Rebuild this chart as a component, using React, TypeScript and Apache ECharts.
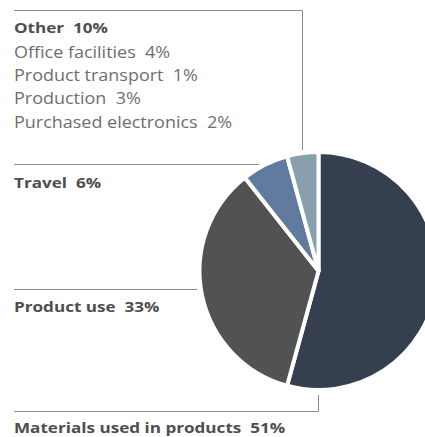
import React, { useEffect, useRef } from "react";
import * as echarts from "echarts";

const sliceNames = ["Materials used in products", "Product use", "Travel", "Other"];
const sliceValues = [51, 33, 6, 4];
const sliceLabels = ["51%", "33%", "6%", "10%"];
const otherNames = ["Office facilities", "Product transport", "Production", "Purchased electronics"];
const otherLabels = ["4%", "1%", "3%", "2%"];
const colors = ["#363f50", "#525252", "#617aa0", "#88a0ab"];

const FONT = "Open Sans";
const BOLD_COLOR = "#4e4e4e";
const LIGHT_COLOR = "#6e6e6e";
const LINE_COLOR = "#8a8a8a";
const BOLD_SCALE = 1.14;
const LIGHT_SCALE = 1.16;

export default function App() {
  const ref = useRef<HTMLDivElement>(null);
  useEffect(() => {
    if (!ref.current) return;
    const chart = echarts.init(ref.current, undefined, { renderer: "svg" });

    const boldText = (x: number, y: number, text: string) => ({
      type: "text",
      x,
      y,
      scaleX: BOLD_SCALE,
      style: {
        text,
        fontFamily: FONT,
        fontSize: 15,
        fontWeight: "bold",
        fill: BOLD_COLOR,
        textVerticalAlign: "middle",
        lineHeight: 14,
      },
    });
    const lightText = (x: number, y: number, text: string) => ({
      type: "text",
      x,
      y,
      scaleX: LIGHT_SCALE,
      style: {
        text,
        fontFamily: FONT,
        fontSize: 15.5,
        fontWeight: "normal",
        fill: LIGHT_COLOR,
        textVerticalAlign: "middle",
        lineHeight: 14,
      },
    });
    const line = (x1: number, y1: number, x2: number, y2: number) => ({
      type: "line",
      shape: { x1, y1, x2, y2 },
      style: { stroke: LINE_COLOR, lineWidth: 1 },
    });

    const graphics: any[] = [
      line(14, 10.5, 302.5, 10.5),
      line(302.5, 10.5, 302.5, 150),
      boldText(14, 27, `${sliceNames[3]}  ${sliceLabels[3]}`),
      ...otherNames.map((n, i) => lightText(14, 51.7 + i * 23.3, `${n}  ${otherLabels[i]}`)),
      line(14, 164.5, 259, 164.5),
      boldText(14, 182, `${sliceNames[2]}  ${sliceLabels[2]}`),
      line(14, 289.5, 197, 289.5),
      boldText(14, 306.5, `${sliceNames[1]}  ${sliceLabels[1]}`),
      line(14, 411.5, 318.5, 411.5),
      line(318.5, 395, 318.5, 411.5),
      boldText(14, 427, `${sliceNames[0]}  ${sliceLabels[0]}`),
    ];

    chart.setOption({
      animation: false,
      series: [
        {
          type: "pie",
          center: [318.5, 271],
          radius: 119,
          startAngle: 90,
          clockwise: true,
          label: { show: false },
          labelLine: { show: false },
          silent: true,
          itemStyle: { borderColor: "#ffffff", borderWidth: 4 },
          data: sliceValues.map((v, i) => ({
            name: sliceNames[i],
            value: v,
            itemStyle: { color: colors[i] },
          })),
        },
      ],
      graphic: graphics,
    });
    return () => chart.dispose();
  }, []);
  return (
    <div
      ref={ref}
      style={{ position: "absolute", left: 0, top: 0, width: 425, height: 437, background: "#fff" }}
    />
  );
}
